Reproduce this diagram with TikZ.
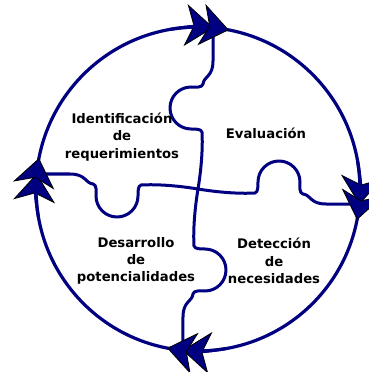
\documentclass[tikz,border=0pt]{standalone}
\usepackage{fontspec}
\setmainfont{DejaVu Sans}
\usepackage{xcolor}
\usetikzlibrary{arrows.meta}
\definecolor{navyline}{RGB}{0,0,128}

\begin{document}
\begin{tikzpicture}[
    x=1pt, y=1pt,
    font=\bfseries\fontsize{13.2}{17.3}\selectfont,
    ring/.style={draw=navyline, line width=3.2pt},
    seam/.style={draw=navyline, line width=3pt, line join=round},
    stage/.style={align=center, text=black, inner sep=0pt},
    chevron/.style={draw=navyline, line width=3.2pt,
      -{Stealth[length=28pt, width=42pt, inset=8pt, line width=0.8pt, color=black, fill=navyline]}},
  ]
  \useasboundingbox (-198,-183) rectangle (171,189);

  % ---------------- Puzzle seams ----------------
  \foreach \r in {0,-90,-180,-270}
    \draw[seam, rotate=\r] (0,0) .. controls (3,18) and (5,40) .. (4,57)
      .. controls (3,60) and (-2,60) .. (-7,60)
      arc[start angle=-90, end angle=-270, radius=21]
      .. controls (-2,102) and (4,101) .. (5,105)
      .. controls (6,113) and (15,112) .. (15,128) -- (15,162);

  % ---------------- Cycle ring ----------------
  \draw[ring] (0,0) circle[radius=162];

  % ---------------- Double arrow heads ----------------
  \foreach \a in {79,-11,-101,169} {
    \draw[chevron] ({\a+21}:162) arc[start angle=\a+21, end angle=\a+5.5, radius=162];
    \draw[chevron] ({\a+16}:162) arc[start angle=\a+16, end angle=\a, radius=162];
  }

  % ---------------- Stages ----------------
  \node[stage] (ident) at (-76,52)  {Identificación\\de\\requerimientos};
  \node[stage] (eval)  at (68,56)   {Evaluación};
  \node[stage] (desar) at (-62,-72) {Desarrollo\\de\\potencialidades};
  \node[stage] (detec) at (76,-72)  {Detección\\de\\necesidades};
\end{tikzpicture}
\end{document}
